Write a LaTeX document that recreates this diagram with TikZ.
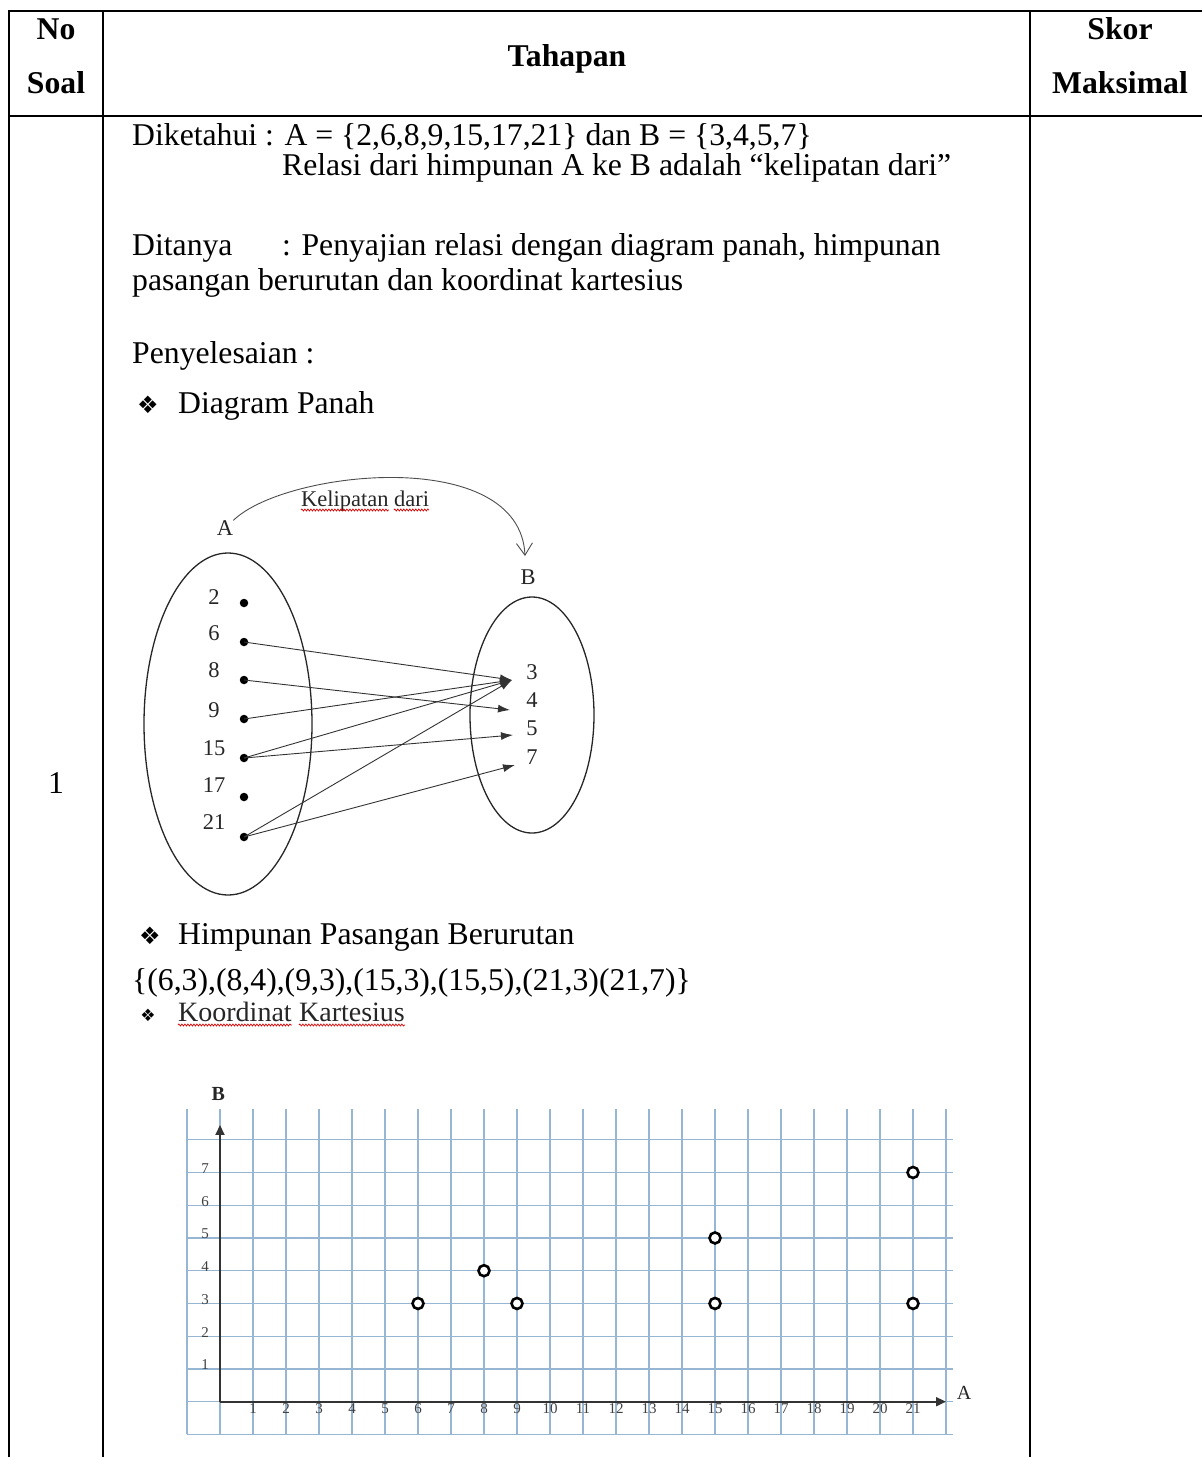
\documentclass[tikz,border=0pt]{standalone}
\usepackage{fontspec}
\setmainfont{Liberation Serif}
\newfontfamily\dingfont{DejaVu Sans}
\usetikzlibrary{arrows.meta,positioning,decorations.pathmorphing}
\definecolor{gridblue}{RGB}{150,182,212}

\begin{document}
\begin{tikzpicture}[
        x=1pt,
        y=-1pt,
        rule/.style={line width=2.4pt, line cap=rect},
        txt/.style={anchor=base west, inner sep=0pt, font=\fontsize{31.7}{38}\selectfont},
        headtxt/.style={anchor=base, inner sep=0pt, font=\bfseries\fontsize{31.7}{38}\selectfont},
        bullet/.style={anchor=base, inner sep=0pt, font=\dingfont\fontsize{24}{28}\selectfont},
        difont/.style={inner sep=0pt, font=\fontsize{22.5}{26}\selectfont, black!85},
        dot/.style={circle, fill=black, inner sep=0pt, minimum size=8.5pt},
        rel/.style={line width=0.9pt, black!80, -{Latex[length=12pt,width=8pt]}},
        curvearrow/.style={line width=0.9pt, black!70, -{Straight Barb[length=12pt,width=16pt]}},
        squiggle/.style={red!85!black, line width=0.7pt, decorate, decoration={snake, amplitude=1pt, segment length=3pt}},
        gridline/.style={line width=1.4pt, gridblue},
        axisline/.style={line width=1.8pt, black!80, -{Triangle[length=10pt,width=9pt]}},
        ptmark/.style={circle, draw=black, fill=white, line width=2.6pt, inner sep=0pt, minimum size=11pt},
        ticklab/.style={inner sep=0pt, font=\fontsize{15}{18}\selectfont, black!75}
    ]
        \useasboundingbox (0,0) rectangle (1202,1457);
        % table rules
        \draw[rule] (1202,11) -- (9,11) -- (9,1457);
        \draw[rule] (9,116) -- (1202,116);
        \foreach \x in {103,1030}{
            \draw[rule] (\x,11) -- (\x,1457);
        }
        \node[headtxt] (no) at (56,39) {No};
        \node[headtxt] (soal) at (56,93) {Soal};
        \node[headtxt] (tahapan) at (567,66) {Tahapan};
        \node[headtxt] (skor) at (1120,39) {Skor};
        \node[headtxt] (maks) at (1120,93) {Maksimal};
        \node[txt, anchor=base] (nomor) at (56,793) {1};

        % soal
        \node[txt] (diket) at (132,145) {Diketahui : A = \{2,6,8,9,15,17,21\} dan B = \{3,4,5,7\}};
        \node[txt] (relasi) at (282,175) {Relasi dari himpunan A ke B adalah “kelipatan dari”};
        \node[txt] (ditanya) at (132,255) {\makebox[150pt][l]{Ditanya}: Penyajian relasi dengan diagram panah, himpunan};
        \node[txt] (pasangan) at (132,290) {pasangan berurutan dan koordinat kartesius};
        \node[txt] (penyel) at (132,363) {Penyelesaian :};
        \node[bullet] (bul1) at (148,413) {❖};
        \node[txt] (dpanah) at (178,413) {Diagram Panah};

        % diagram panah
        \draw[line width=1.3pt, black!85] (228,724) ellipse [x radius=84pt, y radius=171pt];
        \draw[line width=1.3pt, black!85] (532,715) ellipse [x radius=62pt, y radius=118pt];
        \node[difont] (labA) at (225,528) {A};
        \node[difont] (labB) at (528,577) {B};
        \node[difont, anchor=base west] (kel1) at (301,506) {Kelipatan};
        \node[difont, base right=5pt of kel1] (kel2) {dari};
        \draw[squiggle] ([yshift=-4pt]kel1.base west) -- ([yshift=-4pt]kel1.base east);
        \draw[squiggle] ([yshift=-4pt]kel2.base west) -- ([yshift=-4pt]kel2.base east);
        \coordinate (arctip) at (525,556);
        \draw[curvearrow] (labA.north east) .. controls (285,470) and (520,445) .. (arctip);
        \foreach \n/\yn/\yd in {2/597/603,6/633/642,8/670/680,9/710/719,15/748/758,17/785/797,21/822/837}{
            \node[difont] (n\n) at (214,\yn) {\n};
            \node[dot] (a\n) at (244,\yd) {};
        }
        \foreach \n/\y in {3/672,4/700,5/728,7/757}{
            \node[difont] (m\n) at (532,\y) {\n};
        }
        \coordinate (b3) at (512,680);
        \coordinate (b4) at (510,710);
        \coordinate (b5) at (513,735);
        \coordinate (b7) at (515,765);
        \foreach \s/\t in {6/3,8/4,9/3,15/3,15/5,21/3,21/7}{
            \draw[rel] (a\s.center) -- (b\t);
        }

        % himpunan pasangan
        \node[bullet] (bul2) at (150,944) {❖};
        \node[txt] (hpb) at (178,944) {Himpunan Pasangan Berurutan};
        \node[txt] (pairs) at (132,990) {\{(6,3),(8,4),(9,3),(15,3),(15,5),(21,3)(21,7)\}};

        % koordinat kartesius
        \node[bullet, font=\dingfont\fontsize{17}{20}\selectfont] (bul3) at (148,1021) {❖};
        \node[txt, font=\fontsize{28}{34}\selectfont, black!85] (kk1) at (178,1021) {Koordinat};
        \node[txt, font=\fontsize{28}{34}\selectfont, black!85, base right=7pt of kk1] (kk2) {Kartesius};
        \draw[squiggle] ([yshift=-4pt]kk1.base west) -- ([yshift=-4pt]kk1.base east);
        \draw[squiggle] ([yshift=-4pt]kk2.base west) -- ([yshift=-4pt]kk2.base east);
        \begin{scope}[shift={(220,1401.7)}, x=33pt, y=32.75pt]
            \foreach \i in {-1,...,22}{
                \draw[gridline] (\i,-1) -- (\i,8.95);
            }
            \foreach \j in {-1,...,8}{
                \draw[gridline] (-1,\j) -- (22.2,\j);
            }
            \coordinate (O) at (0,0);
            \coordinate (ytip) at (0,8.45);
            \coordinate (xtip) at (22,0);
            \draw[axisline] (O) -- (ytip);
            \draw[axisline] (O) -- (xtip);
            \node[difont, font=\bfseries\fontsize{20}{24}\selectfont] (labY) at (-0.05,9.4) {B};
            \node[difont, font=\fontsize{20}{24}\selectfont] (labX) at (22.55,0.27) {A};
            \foreach \j in {1,...,7}{
                \node[ticklab] (y\j) at (-0.45,\j+0.12) {\j};
            }
            \foreach \i in {1,...,21}{
                \node[ticklab] (x\i) at (\i,-0.2) {\i};
            }
            \foreach \px/\py in {6/3,8/4,9/3,15/3,15/5,21/3,21/7}{
                \node[ptmark] (p\px-\py) at (\px,\py) {};
            }
        \end{scope}
    \end{tikzpicture}
\end{document}
